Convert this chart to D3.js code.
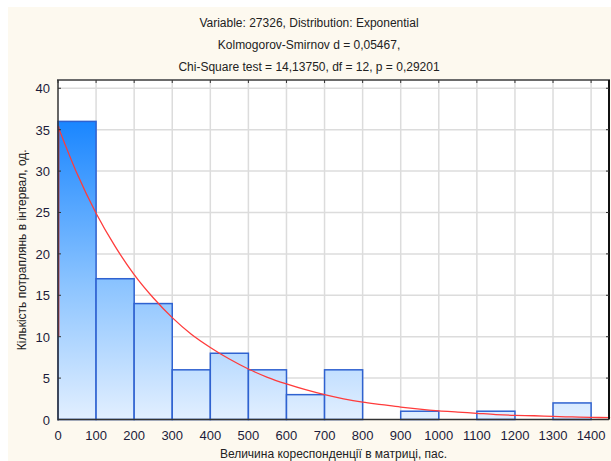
<!DOCTYPE html>
<html>
<head>
<meta charset="utf-8">
<script src="https://cdn.jsdelivr.net/npm/d3@7"></script>
<style>
  html, body { margin: 0; padding: 0; background: #fff; }
  svg { display: block; font-family: "Liberation Sans", Arial, sans-serif; }
</style>
</head>
<body>
<svg id="chart" width="611" height="461"></svg>
<script>
// Histogram bins (lower edge) and counts
const binStarts = [0, 100, 200, 300, 400, 500, 600, 700, 800, 900, 1000, 1100, 1200, 1300];
const binWidth = 100;
const counts = [36, 17, 14, 6, 8, 6, 3, 6, 0, 1, 0, 1, 0, 2];

// Fitted exponential curve
const curveX = [0, 50, 100, 150, 200, 250, 300, 350, 400, 450, 500, 550, 600, 650, 700,
                750, 800, 850, 900, 950, 1000, 1050, 1100, 1150, 1200, 1250, 1300, 1350, 1400, 1450];
const curveY = [35.4, 29.7, 24.9, 20.9, 17.5, 14.7, 12.3, 10.3, 8.7, 7.3, 6.1, 5.1, 4.3, 3.6, 3.0,
                2.5, 2.1, 1.8, 1.5, 1.25, 1.05, 0.9, 0.75, 0.6, 0.5, 0.45, 0.37, 0.31, 0.26, 0.22];

const xTicks = [0, 100, 200, 300, 400, 500, 600, 700, 800, 900, 1000, 1100, 1200, 1300, 1400];
const yTicks = [0, 5, 10, 15, 20, 25, 30, 35, 40];

const titleLines = [
    "Variable: 27326, Distribution: Exponential",
    "Kolmogorov-Smirnov d = 0,05467,",
    "Chi-Square test = 14,13750, df = 12, p = 0,29201"
];
const xLabel = "Величина кореспонденції в матриці, пас.";
const yLabel = "Кількість потраплянь в інтервал, од.";

const svg = d3.select("#chart");
const plot = { left: 58, right: 609, top: 80, bottom: 419.5 };

// cream panel background
svg.append("rect")
    .attr("x", 8).attr("y", 7)
    .attr("width", 611 - 8).attr("height", 461 - 7)
    .attr("fill", "#fdf9ef");

const x = d3.scaleLinear().domain([0, 1447]).range([plot.left, plot.right]);
const y = d3.scaleLinear().domain([0, 41]).range([plot.bottom, plot.top]);

// plot area
svg.append("rect")
    .attr("x", plot.left).attr("y", plot.top)
    .attr("width", plot.right - plot.left).attr("height", plot.bottom - plot.top)
    .attr("fill", "#fff");

// grid
svg.append("g").selectAll("line")
    .data(xTicks.filter(d => d > 0))
    .join("line")
    .attr("x1", d => x(d)).attr("x2", d => x(d))
    .attr("y1", plot.top).attr("y2", plot.bottom)
    .attr("stroke", "#dcdcdc").attr("stroke-width", 1.5);

svg.append("g").selectAll("line")
    .data(yTicks.filter(d => d > 0))
    .join("line")
    .attr("x1", plot.left).attr("x2", plot.right)
    .attr("y1", d => y(d)).attr("y2", d => y(d))
    .attr("stroke", "#dcdcdc").attr("stroke-width", 1.5);

// bar gradient (spans the whole plot height)
const defs = svg.append("defs");
const grad = defs.append("linearGradient")
    .attr("id", "barGrad")
    .attr("gradientUnits", "userSpaceOnUse")
    .attr("x1", 0).attr("x2", 0)
    .attr("y1", y(36)).attr("y2", plot.bottom);
grad.append("stop").attr("offset", "0%").attr("stop-color", "#1a86ff");
grad.append("stop").attr("offset", "55%").attr("stop-color", "#8cc4ff");
grad.append("stop").attr("offset", "100%").attr("stop-color", "#e2efff");

const bins = binStarts.map((s, i) => ({ x0: s, x1: s + binWidth, n: counts[i] }));

svg.append("g").selectAll("rect")
    .data(bins.filter(d => d.n > 0))
    .join("rect")
    .attr("x", d => x(d.x0))
    .attr("y", d => y(d.n))
    .attr("width", d => x(d.x1) - x(d.x0))
    .attr("height", d => y(0) - y(d.n))
    .attr("fill", "url(#barGrad)")
    .attr("stroke", "#2f62d0")
    .attr("stroke-width", 1.5);

// fitted curve
const line = d3.line()
    .x((d, i) => x(curveX[i]))
    .y(d => y(d))
    .curve(d3.curveMonotoneX);

svg.append("path")
    .datum(curveY)
    .attr("d", line)
    .attr("fill", "none")
    .attr("stroke", "#ff3b3b")
    .attr("stroke-width", 1.3);

svg.append("line")
    .attr("x1", x(0) + 0.7).attr("x2", x(0) + 0.7)
    .attr("y1", y(curveY[0])).attr("y2", y(10))
    .attr("stroke", "#e0303a").attr("stroke-width", 1.3);

// frame
svg.append("line")
    .attr("x1", plot.left - 1).attr("x2", plot.right + 1)
    .attr("y1", plot.top).attr("y2", plot.top)
    .attr("stroke", "#6b6b6b").attr("stroke-width", 2);
svg.append("line")
    .attr("x1", plot.right).attr("x2", plot.right)
    .attr("y1", plot.top).attr("y2", plot.bottom)
    .attr("stroke", "#111").attr("stroke-width", 2);
svg.append("line")
    .attr("x1", plot.left).attr("x2", plot.left)
    .attr("y1", plot.top).attr("y2", plot.bottom + 1)
    .attr("stroke", "#333").attr("stroke-width", 1.5);
svg.append("line")
    .attr("x1", plot.left).attr("x2", plot.right)
    .attr("y1", plot.bottom).attr("y2", plot.bottom)
    .attr("stroke", "#333").attr("stroke-width", 1.5);

// small inner tick marks on top, right and left
svg.append("g").selectAll("line")
    .data(xTicks)
    .join("line")
    .attr("x1", d => x(d)).attr("x2", d => x(d))
    .attr("y1", plot.top).attr("y2", plot.top + 3)
    .attr("stroke", "#333");
svg.append("g").selectAll("line")
    .data(yTicks)
    .join("line")
    .attr("x1", plot.right - 3).attr("x2", plot.right)
    .attr("y1", d => y(d)).attr("y2", d => y(d))
    .attr("stroke", "#333");
svg.append("g").selectAll("line")
    .data(yTicks)
    .join("line")
    .attr("x1", plot.left).attr("x2", plot.left + 3)
    .attr("y1", d => y(d)).attr("y2", d => y(d))
    .attr("stroke", "#333");

// tick labels
svg.append("g").selectAll("text")
    .data(xTicks)
    .join("text")
    .attr("x", d => x(d))
    .attr("y", plot.bottom + 20)
    .attr("text-anchor", "middle")
    .attr("font-size", 13)
    .attr("fill", "#1c1c3a")
    .text(d => d);

svg.append("g").selectAll("text")
    .data(yTicks)
    .join("text")
    .attr("x", plot.left - 8)
    .attr("y", d => y(d) + 5)
    .attr("text-anchor", "end")
    .attr("font-size", 13)
    .attr("fill", "#1c1c3a")
    .text(d => d);

// titles
svg.append("g").selectAll("text")
    .data(titleLines)
    .join("text")
    .attr("x", 309)
    .attr("y", (d, i) => 27 + i * 22)
    .attr("text-anchor", "middle")
    .attr("font-size", 12)
    .attr("fill", "#222")
    .text(d => d);

svg.append("text")
    .attr("x", (plot.left + plot.right) / 2)
    .attr("y", 458)
    .attr("text-anchor", "middle")
    .attr("font-size", 12)
    .attr("fill", "#222")
    .text(xLabel);

svg.append("text")
    .attr("transform", `translate(26,${(plot.top + plot.bottom) / 2})rotate(-90)`)
    .attr("text-anchor", "middle")
    .attr("font-size", 12)
    .attr("fill", "#222")
    .text(yLabel);
</script>
</body>
</html>
